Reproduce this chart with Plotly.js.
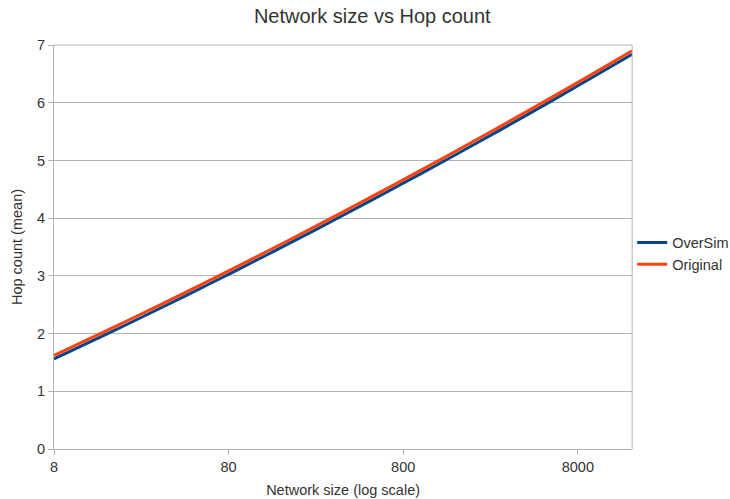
<!DOCTYPE html>
<html>
<head>
<meta charset="utf-8">
<script src="https://cdn.plot.ly/plotly-3.0.1.min.js"></script>
<style>html,body{margin:0;padding:0;background:#fff;}#chart{width:730px;height:499px;}</style>
</head>
<body>
<div id="chart"></div>
<script>
var networkSize = [8, 16, 32, 64, 128, 256, 512, 1024, 2048, 4096, 8192, 16384];
var overSim = [1.56, 1.99, 2.43, 2.88, 3.34, 3.81, 4.29, 4.78, 5.28, 5.79, 6.31, 6.84];
var original = [1.62, 2.05, 2.49, 2.94, 3.40, 3.87, 4.35, 4.84, 5.34, 5.85, 6.37, 6.90];
var xTickVals = [8, 80, 800, 8000];
var xTickText = ['8', '80', '800', '8000'];
var yTickVals = [0, 1, 2, 3, 4, 5, 6, 7];

var font = 'Liberation Sans, Arial, sans-serif';
var traces = [
  {x: networkSize, y: overSim, name: 'OverSim', type: 'scatter', mode: 'lines',
   line: {color: '#004586', width: 3, shape: 'spline', smoothing: 0.8}},
  {x: networkSize, y: original, name: 'Original', type: 'scatter', mode: 'lines',
   line: {color: '#ff420e', width: 3, shape: 'spline', smoothing: 0.8}}
];
var layout = {
  width: 730, height: 499,
  margin: {l: 54, r: 93, t: 45, b: 50},
  paper_bgcolor: '#fff', plot_bgcolor: '#fff',
  font: {family: font, size: 14.5, color: '#333'},
  title: {text: 'Network size vs Hop count', xref: 'container', x: 0.51, xanchor: 'center',
          yref: 'container', y: 0.968, yanchor: 'middle',
          font: {family: font, size: 20, color: '#333'}},
  xaxis: {type: 'log', range: [Math.log10(8), Math.log10(16384)],
          tickvals: xTickVals, ticktext: xTickText,
          showgrid: false, zeroline: false, showline: true, linecolor: '#b3b3b3', linewidth: 1,
          ticks: 'outside', ticklen: 5, tickcolor: '#b3b3b3',
          tickfont: {family: font, size: 14.5, color: '#333'},
          title: {text: 'Network size (log scale)', standoff: 10, font: {family: font, size: 14.5, color: '#333'}}},
  yaxis: {range: [0, 7], tickvals: yTickVals,
          showgrid: true, gridcolor: '#b3b3b3', gridwidth: 1,
          zeroline: false, showline: true, linecolor: '#b3b3b3', linewidth: 1,
          ticks: 'outside', ticklen: 5, tickcolor: '#b3b3b3',
          tickfont: {family: font, size: 14.5, color: '#333'},
          title: {text: 'Hop count (mean)', standoff: 10, font: {family: font, size: 14.5, color: '#333'}}},
  showlegend: true,
  legend: {xref: 'container', yref: 'container', x: 0.866, xanchor: 'left', y: 0.492, yanchor: 'middle',
           bgcolor: 'rgba(0,0,0,0)', borderwidth: 0,
           font: {family: font, size: 14.5, color: '#333'}, tracegroupgap: 0},
  shapes: [
    {type: 'line', xref: 'paper', yref: 'paper', x0: 1, x1: 1, y0: 0, y1: 1, line: {color: '#b3b3b3', width: 1}},
    {type: 'line', xref: 'paper', yref: 'paper', x0: 0, x1: 1, y0: 1, y1: 1, line: {color: '#b3b3b3', width: 1}}
  ]
};
Plotly.newPlot('chart', traces, layout, {displayModeBar: false, staticPlot: true});
</script>
</body>
</html>
